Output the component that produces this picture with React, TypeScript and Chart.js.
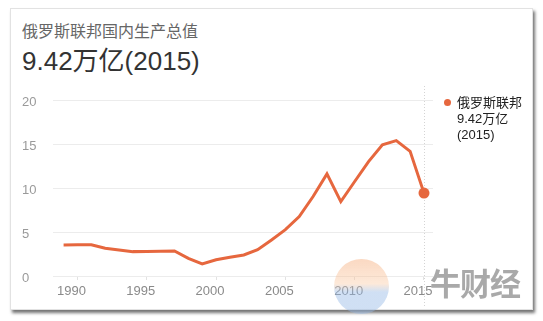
import React, { useEffect, useRef } from "react";
import { Chart, registerables } from "chart.js";

Chart.register(...registerables);

const TITLE = "俄罗斯联邦国内生产总值";
const HEADLINE = "9.42万亿(2015)";
const SERIES_NAME = "俄罗斯联邦";
const LEGEND_VALUE = "9.42万亿";
const LEGEND_YEAR = "(2015)";
const WATERMARK = "牛财经";

const YEARS = [
  1989, 1990, 1991, 1992, 1993, 1994, 1995, 1996, 1997, 1998, 1999, 2000, 2001, 2002,
  2003, 2004, 2005, 2006, 2007, 2008, 2009, 2010, 2011, 2012, 2013, 2014, 2015,
];
const GDP = [
  3.53, 3.55, 3.55, 3.15, 2.96, 2.77, 2.79, 2.82, 2.85, 2.0, 1.37, 1.85, 2.13, 2.39,
  2.98, 4.1, 5.27, 6.75, 9.03, 11.6, 8.46, 10.74, 13.0, 14.92, 15.38, 14.16, 9.42,
];
const X_TICKS = [1990, 1995, 2000, 2005, 2010, 2015];
const Y_TICKS = [0, 5, 10, 15, 20];

const LINE_COLOR = "#e6673e";
const FONT = '"Liberation Sans", "Noto Sans CJK SC", sans-serif';

export default function App() {
  const canvasRef = useRef<HTMLCanvasElement | null>(null);

  useEffect(() => {
    const canvas = canvasRef.current;
    if (!canvas) return;
    const last = YEARS.length - 1;
    const markerPlugin = {
      id: "markerLine",
      beforeDatasetsDraw(chart: any) {
        const xs = chart.scales.x;
        const x = Math.round(xs.getPixelForValue(YEARS[last])) + 0.5;
        const ctx = chart.ctx;
        ctx.save();
        ctx.strokeStyle = "#d4d4d4";
        ctx.lineWidth = 1;
        ctx.setLineDash([1, 2]);
        ctx.beginPath();
        ctx.moveTo(x, 86);
        ctx.lineTo(x, 306);
        ctx.stroke();
        ctx.restore();
      },
    };
    const chart = new Chart(canvas, {
      type: "line",
      data: {
        datasets: [
          {
            label: SERIES_NAME,
            data: YEARS.map((y, i) => ({ x: y, y: GDP[i] })),
            borderColor: LINE_COLOR,
            backgroundColor: LINE_COLOR,
            borderWidth: 3,
            pointRadius: YEARS.map((_, i) => (i === last ? 5.5 : 0)),
            pointBackgroundColor: LINE_COLOR,
            pointBorderWidth: 0,
            tension: 0,
            fill: false,
          },
        ],
      },
      options: {
        animation: false,
        responsive: false,
        devicePixelRatio: 1,
        layout: { padding: { left: 22, right: 110, top: 100, bottom: 15 } },
        plugins: { legend: { display: false }, tooltip: { enabled: false }, title: { display: false } },
        scales: {
          x: {
            type: "linear",
            min: 1988.236,
            max: 2015.65,
            afterBuildTicks: (s: any) => {
              s.ticks = X_TICKS.map((v) => ({ value: v }));
            },
            afterFit: (s: any) => {
              s.height = 30;
            },
            ticks: {
              callback: (v: any) => String(v),
              color: "#8a8a8a",
              font: { size: 13, family: FONT },
              padding: 4,
              labelOffset: -6,
              maxRotation: 0,
              autoSkip: false,
            },
            grid: { drawOnChartArea: false, drawTicks: true, tickLength: 4, color: "#e2e2e2" },
            border: { display: false },
          },
          y: {
            min: 0,
            max: 20,
            afterBuildTicks: (s: any) => {
              s.ticks = Y_TICKS.map((v) => ({ value: v }));
            },
            afterFit: (s: any) => {
              s.width = 31;
            },
            ticks: {
              crossAlign: "far",
              color: "#9a9a9a",
              font: { size: 13, family: FONT },
              labelOffset: 2,
            },
            grid: { color: "#ececec", drawTicks: false },
            border: { display: false },
          },
        },
      },
      plugins: [markerPlugin],
    } as any);
    return () => chart.destroy();
  }, []);

  return (
    <div style={{ position: "fixed", left: 0, top: 0, width: 543, height: 321, background: "#fff", overflow: "hidden", fontFamily: FONT }}>
      <div
        style={{
          position: "absolute",
          left: 10,
          top: 8,
          width: 521,
          height: 300,
          border: "1px solid #e2e2e2",
          boxShadow: "2px 3px 3px rgba(0,0,0,0.55)",
          background: "#fff",
        }}
      />
      <div style={{ position: "absolute", left: 22, top: 22, fontSize: 16, lineHeight: "20px", color: "#666", whiteSpace: "nowrap" }}>
        {TITLE}
      </div>
      <div style={{ position: "absolute", left: 22, top: 46, fontSize: 26, lineHeight: "30px", color: "#333", whiteSpace: "nowrap" }}>
        {HEADLINE}
      </div>
      <canvas
        ref={canvasRef}
        width={543}
        height={321}
        style={{ position: "absolute", left: 0, top: 0, width: 543, height: 321, display: "block" }}
      />
      <div
        style={{
          position: "absolute",
          left: 334,
          top: 259,
          width: 55,
          height: 55,
          borderRadius: "50%",
          background: "linear-gradient(180deg, rgba(245,170,120,0.45) 0%, rgba(250,200,160,0.4) 45%, rgba(150,185,230,0.45) 60%, rgba(150,185,230,0.45) 100%)",
          pointerEvents: "none",
        }}
      />
      <div
        style={{
          position: "absolute",
          left: 430,
          top: 268,
          fontSize: 31,
          lineHeight: "34px",
          fontWeight: 700,
          color: "rgba(140,140,140,0.75)",
          whiteSpace: "nowrap",
          letterSpacing: -1,
          pointerEvents: "none",
        }}
      >
        {WATERMARK}
      </div>
      <div style={{ position: "absolute", left: 443.5, top: 98.5, width: 7, height: 7, borderRadius: "50%", background: LINE_COLOR }} />
      <div style={{ position: "absolute", left: 457, top: 94.5, fontSize: 13, lineHeight: "16px", color: "#222", whiteSpace: "nowrap" }}>
        <div>{SERIES_NAME}</div>
        <div>{LEGEND_VALUE}</div>
        <div>{LEGEND_YEAR}</div>
      </div>
    </div>
  );
}
